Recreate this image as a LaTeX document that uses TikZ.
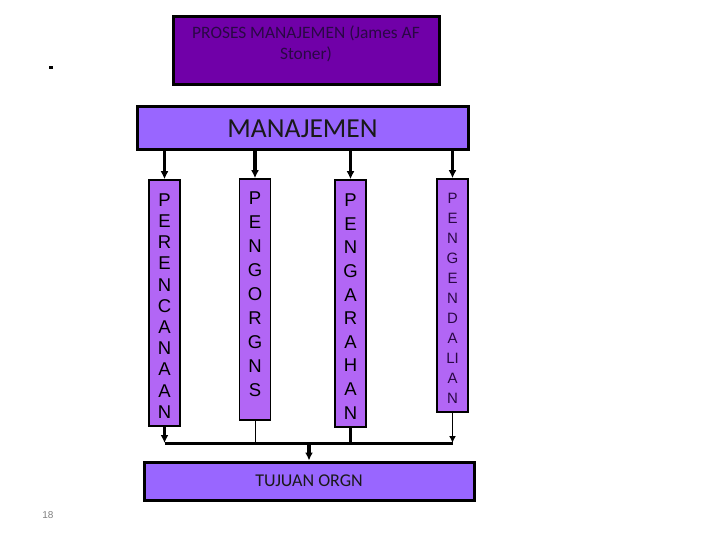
\documentclass[tikz,border=0pt]{standalone}
\usepackage{fontspec}
\setmainfont{Carlito}
\newfontfamily\arialfont{Liberation Sans}
\usepackage{tikz}
\usetikzlibrary{arrows.meta}
\definecolor{darkviolet}{HTML}{7000A8}
\definecolor{midviolet}{HTML}{9966FF}
\definecolor{colviolet}{HTML}{B266F5}
\definecolor{inkviolet}{HTML}{2A0845}

\begin{document}
\begin{tikzpicture}[x=1pt,y=-1pt,>=Latex,
 topbox/.style={draw,line width=3pt,fill=darkviolet,minimum width=266pt,minimum height=68pt,align=center,text=inkviolet,font=\fontsize{17.4}{21}\selectfont},
 mainbox/.style={draw,line width=3pt,fill=midviolet,minimum width=331pt,align=center,text=black!90},
 col/.style={draw,line width=1.6pt,fill=colviolet,minimum width=31pt,inner sep=0pt},
 letters/.style={align=center,inner sep=0pt},
 bigarrow/.style={->,line width=3.5pt,arrows={-Latex[length=8pt,width=8pt]}}]
\useasboundingbox (0,0) rectangle (720,540);
% judul
\node[topbox] (proses) at (306,51) {};
\node[align=center,text=inkviolet,font=\fontsize{17.4}{21}\selectfont] (prosesteks) at (306,44) {PROSES MANAJEMEN (James AF\\Stoner)};
\node[mainbox,minimum height=43pt,font=\fontsize{27.5}{30}\selectfont] (manaj) at (302.5,128.5) {MANAJEMEN};
% empat fungsi
\node[col,minimum height=246pt] (ren) at (164.5,303) {};
\node[col,minimum height=241pt] (org) at (255,299.5) {};
\node[col,minimum height=247pt] (arah) at (350.5,303.5) {};
\node[col,minimum height=233pt] (dali) at (452.5,295.5) {};
\node[letters,font=\arialfont\fontsize{18.5}{21.2}\selectfont,yshift=-3pt] (renteks) at (ren) {P\\E\\R\\E\\N\\C\\A\\N\\A\\A\\N};
\node[letters,font=\arialfont\fontsize{18.5}{24}\selectfont,yshift=5.5pt] (orgteks) at (org) {P\\E\\N\\G\\O\\R\\G\\N\\S};
\node[letters,font=\arialfont\fontsize{18.5}{23.6}\selectfont,yshift=-3pt] (arahteks) at (arah) {P\\E\\N\\G\\A\\R\\A\\H\\A\\N};
\node[letters,font=\arialfont\fontsize{15}{20}\selectfont,text=inkviolet,yshift=-3pt] (daliteks) at (dali) {P\\E\\N\\G\\E\\N\\D\\A\\LI\\A\\N};
\node[mainbox,minimum width=330pt,minimum height=38pt,font=\fontsize{18}{20}\selectfont] (tujuan) at (309,481) {TUJUAN ORGN};
\draw[bigarrow] (manaj.south -| ren) -- (ren.north);
\draw[bigarrow] (manaj.south -| org) -- (org.north);
\draw[bigarrow] (manaj.south -| arah) -- (arah.north);
\draw[bigarrow] (manaj.south -| dali) -- (dali.north);
% ke tujuan
\coordinate (bus) at (0,443);
\draw[line width=3pt] (ren.south |- bus) -- (dali.south |- bus);
\draw[bigarrow] (ren.south) -- (ren.south |- bus);
\draw[line width=0.8pt] (org.south) -- (org.south |- bus);
\draw[line width=3.5pt] (arah.south) -- (arah.south |- bus);
\draw[->,line width=1.8pt,arrows={-Latex[length=7pt,width=7pt]}] (dali.south) -- (dali.south |- bus);
\draw[bigarrow] (tujuan.north |- bus) -- (tujuan.north);
% lain-lain
\node[fill=black,minimum width=4pt,minimum height=3pt,inner sep=0pt] (titik) at (51,68) {};
\node[text=gray,font=\arialfont\fontsize{10}{12}\selectfont] (hal) at (48,515) {18};
\end{tikzpicture}
\end{document}
